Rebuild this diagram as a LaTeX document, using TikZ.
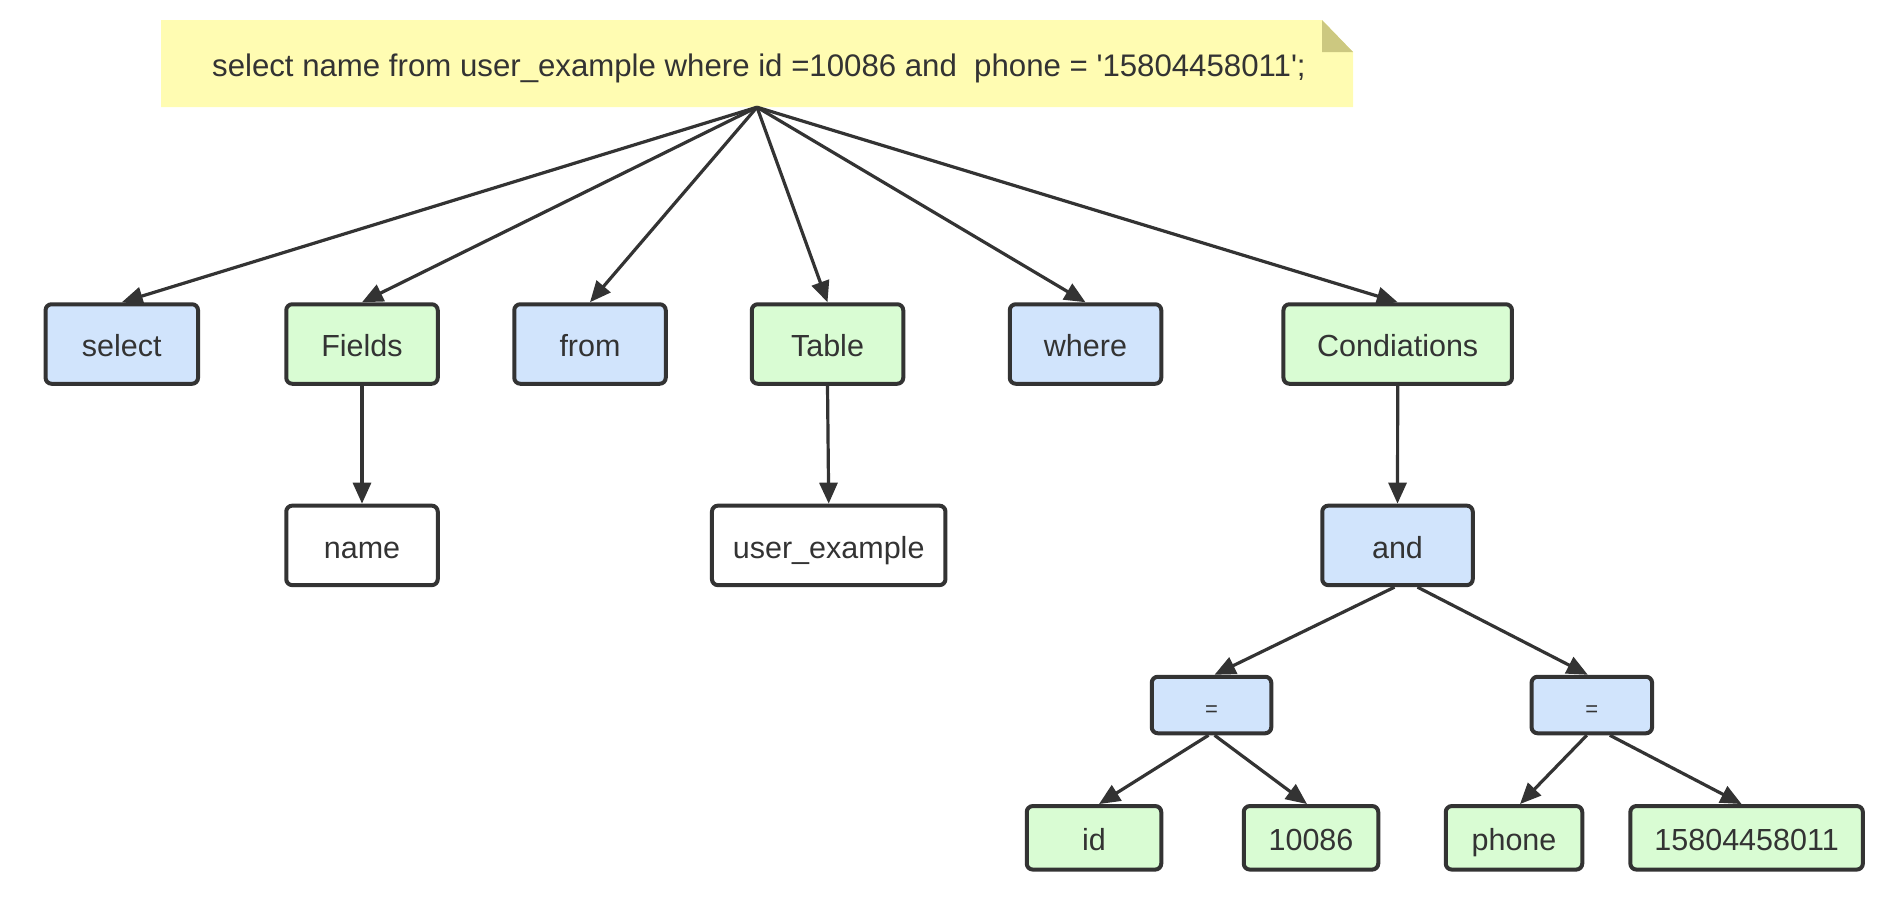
\documentclass[tikz,border=0pt]{standalone}
\usepackage{fontspec}
\setmainfont{Liberation Sans}
\newfontfamily\plainsans{Liberation Sans}
\usetikzlibrary{arrows.meta}
\definecolor{ln}{RGB}{51,51,51}
\definecolor{bluef}{RGB}{209,228,252}
\definecolor{greenf}{RGB}{217,252,211}
\definecolor{noteY}{RGB}{255,252,178}
\definecolor{foldC}{RGB}{204,200,128}
\begin{document}
\begin{tikzpicture}[x=1pt,y=-1pt,
  box/.style={draw=ln, line width=4pt, rounded corners=6pt, text=ln,
    font=\fontsize{30.5}{36}\selectfont, inner sep=0pt, minimum height=79.5pt,
    text height=25.4pt, text depth=0pt},
  bluebox/.style={box, fill=bluef},
  greenbox/.style={box, fill=greenf},
  whitebox/.style={box, fill=white},
  eqbox/.style={bluebox, minimum height=56.5pt, font=\fontsize{22}{26}\selectfont,
    text height=22pt},
  leafbox/.style={greenbox, minimum height=63.5pt},
  conn/.style={draw=ln, line width=3.2pt, -{Triangle[length=21pt,width=18pt]}}]
\useasboundingbox (0,0) rectangle (1890,900);
% note
\fill[noteY] (161,20) -- (1322,20) -- (1353,52) -- (1353,107) -- (161,107) -- cycle;
\fill[foldC] (1322,20) -- (1322,52) -- (1353,52) -- cycle;
\node[inner sep=0pt, minimum width=1192pt, minimum height=87pt] (note) at (757,63.5) {};
\node[inner sep=0pt, text=ln, text height=25pt, text depth=0pt,
  font=\plainsans\fontsize{31.2}{36}\selectfont] (notetext) at (759,63.5)
  {select name from user\_example where id =10086 and\ \ phone = \symbol{39}15804458011\symbol{39};};
% row 1
\node[bluebox, minimum width=152.5pt] (select) at (121.8,344) {select};
\node[greenbox, minimum width=151.5pt] (fields) at (362,344) {Fields};
\node[bluebox, minimum width=151.5pt] (from) at (590,344) {from};
\node[greenbox, minimum width=151.5pt] (table) at (827.5,344) {Table};
\node[bluebox, minimum width=151.5pt] (where) at (1085.5,344) {where};
\node[greenbox, minimum width=228.5pt] (cond) at (1397.7,344) {Condiations};
% row 2
\node[whitebox, minimum width=151.5pt] (name) at (362,545.4) {name};
\node[whitebox, minimum width=233.5pt] (user) at (828.7,545.4) {user\_example};
\node[bluebox, minimum width=150.5pt] (and) at (1397.5,545.4) {and};
% row 3
\node[eqbox, minimum width=119.5pt] (eqL) at (1211.5,705) {=};
\node[eqbox, minimum width=120.5pt] (eqR) at (1591.8,705) {=};
% row 4
\node[leafbox, minimum width=134.5pt] (id) at (1094,837.8) {id};
\node[leafbox, minimum width=134.5pt] (num) at (1311,837.8) {10086};
\node[leafbox, minimum width=136.5pt] (phone) at (1514,837.8) {phone};
\node[leafbox, minimum width=232.5pt] (tel) at (1746.6,837.8) {15804458011};
% connectors
\draw[conn] (note.south) -- (select.north);
\draw[conn] (note.south) -- (fields.north);
\draw[conn] (note.south) -- (from.north);
\draw[conn] (note.south) -- (table.north);
\draw[conn] (note.south) -- (where.north);
\draw[conn] (note.south) -- (cond.north);
\draw[conn] (fields.south) -- (name.north);
\draw[conn] (table.south) -- (user.north);
\draw[conn] (cond.south) -- (and.north);
\draw[conn] ([xshift=-3pt]and.south) -- ([xshift=3pt]eqL.north);
\draw[conn] ([xshift=20pt]and.south) -- ([xshift=-4pt]eqR.north);
\draw[conn] ([xshift=-3pt]eqL.south) -- ([xshift=5pt]id.north);
\draw[conn] ([xshift=3pt]eqL.south) -- ([xshift=-4pt]num.north);
\draw[conn] ([xshift=-5pt]eqR.south) -- ([xshift=6pt]phone.north);
\draw[conn] ([xshift=18pt]eqR.south) -- ([xshift=-5pt]tel.north);
\end{tikzpicture}
\end{document}
